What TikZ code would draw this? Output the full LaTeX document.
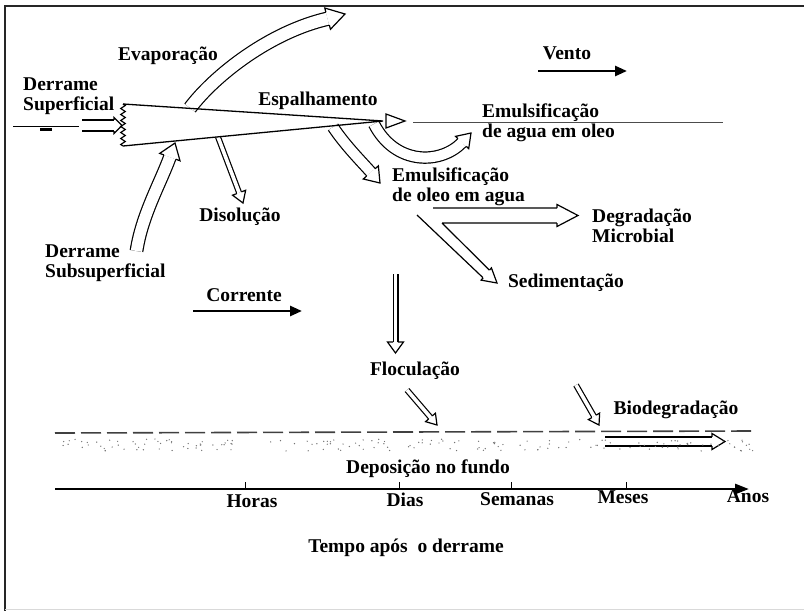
\documentclass[tikz,border=0pt]{standalone}
\usepackage{fontspec}
\setmainfont{Liberation Serif}
\usetikzlibrary{arrows.meta, decorations.pathmorphing}

\begin{document}
\begin{tikzpicture}[x=1pt, y=-1pt,
  lbl/.style={font=\bfseries\fontsize{19.5}{20}\selectfont, inner sep=0pt, align=left},
  hollow/.style={double, double distance=#1, line width=1.2pt},
  flow/.style={line width=2.6pt, -{Triangle[length=12pt, width=10pt]}},
  pics/ohead/.style n args={3}{code={\draw[fill=white, line width=1.2pt, line join=miter] (-#1,-#3) -- (-#1,-#2) -- (0,0) -- (-#1,#2) -- (-#1,#3);}}]
  \useasboundingbox (0,0) rectangle (804,611);
  \draw[line width=2.6pt, black!85] (5,611) -- (5,6) -- (810,6);
  \draw[black!15] (5,609.5) -- (804,609.5);
  % labels
  \node[lbl] (evap) at (168,56) {Evaporação};
  \node[lbl, anchor=west] (dsup) at (23,96) {Derrame\\Superficial};
  \node[lbl] (espal) at (318,101) {Espalhamento};
  \node[lbl] (vento) at (567,53) {Vento};
  \node[lbl, anchor=west] (emagua) at (482,123) {Emulsificação\\de agua em oleo};
  \node[lbl, anchor=west] (emoleo) at (392,187) {Emulsificação\\de oleo em agua};
  \node[lbl] (disol) at (240,217) {Disolução};
  \node[lbl, anchor=west] (dsub) at (45,263) {Derrame\\Subsuperficial};
  \node[lbl, anchor=west] (degr) at (592,226) {Degradação\\Microbial};
  \node[lbl] (sedim) at (566,283) {Sedimentação};
  \node[lbl] (corr) at (244,295) {Corrente};
  \node[lbl] (floc) at (415,371) {Floculação};
  \node[lbl] (biod) at (676,410) {Biodegradação};
  \node[lbl] (depos) at (428,469) {Deposição no fundo};
  \node[lbl] (tempo) at (406,548) {Tempo após~ o derrame};
  % hollow arrows
  \draw[hollow=12] (190,108) .. controls (215,75) and (270,32) .. (327.6,18.7);
  \pic[rotate=15] at (345,14) {ohead={18}{11}{6.6}};
  \draw[hollow=11.4] (136.5,251) .. controls (142,215) and (160,184) .. (169.9,157.1);
  \pic[rotate=70] at (175,143) {ohead={15}{10.8}{6.3}};
  \draw[hollow=3.6] (218,137) -- (239.1,192.7);
  \pic[rotate=-69.3] at (243,203) {ohead={11}{7}{2.4}};
  \draw[hollow=10] (333,127) .. controls (345,145) and (360,160) .. (371,172.3);
  \pic[rotate=-49] at (380,183) {ohead={14}{10}{5.6}};
  \draw[hollow=10] (374,124) .. controls (395,165) and (440,165) .. (462.1,142.5);
  \pic[rotate=47] at (471,133) {ohead={13}{9}{5.6}};
  \draw[line width=1.2pt] (433,208) -- (557,208) (442,223) -- (557,223)
    (417,215) -- (483.1,277.8) (442,223) -- (489.5,270.2);
  \pic at (578,215.5) {ohead={21}{11}{7.5}};
  \pic[rotate=-40] at (497,283) {ohead={14}{8}{5}};
  \draw[hollow=3.6] (395.5,274) -- (395.5,342);
  \pic[rotate=-90] at (395.5,353) {ohead={11}{8}{2.4}};
  \draw[hollow=3.6] (407,390) -- (430.5,417.4);
  \pic[rotate=-49.4] at (437,425) {ohead={10}{6.5}{2.4}};
  \draw[hollow=3.6] (576,385) -- (594,416.3);
  \pic[rotate=-60] at (599,425) {ohead={10}{6.5}{2.4}};
  \draw[hollow=7.9] (605,441.5) -- (712,441.5);
  \pic at (725,441.5) {ohead={13}{8}{4.55}};
  % surface spill
  \draw[line width=0.8pt] (13,126) -- (79,126);
  \fill (40,128) rectangle (52,131);
  \draw[hollow=9.9] (82,125.5) -- (114,125.5);
  \pic at (122,125.5) {ohead={8}{8}{5.55}};
  % slick
  \draw[line width=1.3pt, line join=miter] (123,104) -- (383,121) -- (123,146);
  \draw[line width=1.2pt, decorate, decoration={zigzag, segment length=6, amplitude=2.2}] (123,104) -- (123,146);
  \draw[line width=1.2pt, fill=white] (386,114) -- (405,121) -- (386,128) -- cycle;
  \draw[black!70] (413,122) -- (723,122);
  \draw[flow] (538,71) -- (627,71);
  \draw[flow] (193,311) -- (302,311);
  % bottom
  \draw[line width=1.6pt, black!75, dash pattern=on 20pt off 6pt] (55,433) -- (752,431);
  \pgfmathsetseed{42}
  \foreach \k in {1,...,170}{
    \pgfmathsetmacro{\dx}{58+695*rnd}
    \pgfmathsetmacro{\dy}{439+12*rnd}
    \fill[black!55] (\dx,\dy) circle (0.7);
  }
  \draw[line width=2.8pt, -{Triangle[length=14pt, width=10pt]}] (55,489) -- (749,489);
  \foreach \tx in {245,399,511,626} \draw[line width=1pt] (\tx,489) -- (\tx,482);
  \node[lbl] (horas) at (252,501) {Horas};
  \node[lbl] (dias) at (405,500) {Dias};
  \node[lbl] (seman) at (517,499) {Semanas};
  \node[lbl] (meses) at (623,497) {Meses};
  \node[lbl] (anos) at (748,496) {Anos};
\end{tikzpicture}
\end{document}
